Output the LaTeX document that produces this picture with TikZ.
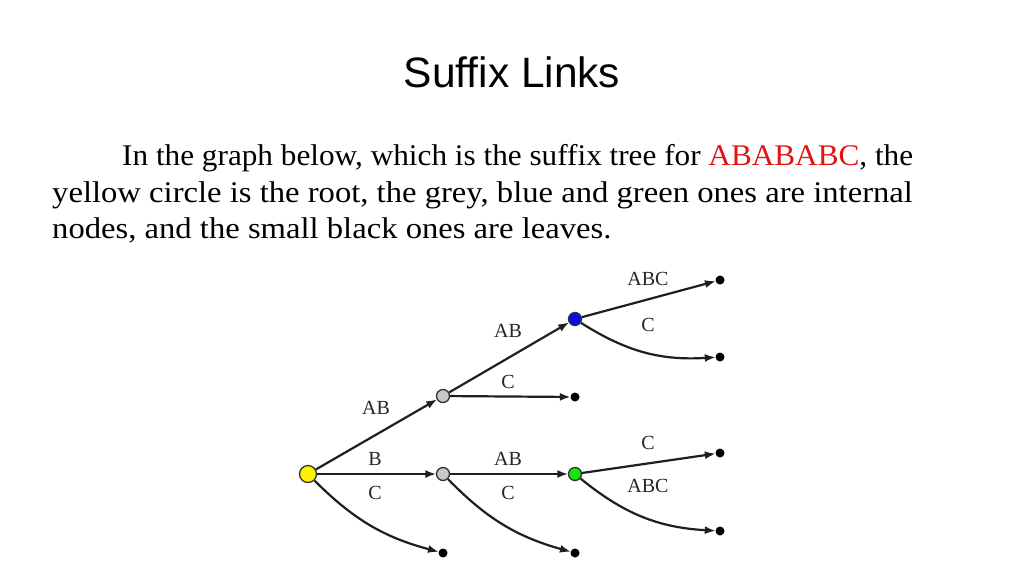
\documentclass[tikz,border=0pt]{standalone}
\usepackage{fontspec}
\setmainfont{Liberation Serif}
\newfontfamily\titlefont{Liberation Sans}
\usetikzlibrary{arrows.meta}
\definecolor{greynode}{RGB}{200,200,200}
\definecolor{greennode}{RGB}{20,230,20}
\definecolor{bluenode}{RGB}{10,10,240}
\definecolor{rednote}{RGB}{225,20,20}
\begin{document}
\begin{tikzpicture}[x=1pt,y=1pt,
  vtx/.style={circle,draw=black!80,line width=1.3pt,inner sep=0pt},
  rootnode/.style={vtx,minimum size=17pt,fill=yellow},
  inode/.style={vtx,minimum size=13pt},
  leaf/.style={circle,fill=black,inner sep=0pt,minimum size=9pt},
  edge/.style={line width=2.2pt,draw=black!88,-{Latex[length=11pt,width=8pt]},shorten >=-0.5pt},
  lab/.style={font=\fontsize{20}{22}\selectfont,text=black!85,inner sep=0pt},
  body/.style={font=\fontsize{30}{36}\selectfont,anchor=base west,inner sep=0pt}
]
\useasboundingbox (0,0) rectangle (1024,-576);
\fill[white] (0,0) rectangle (1024,-576);
% title
\node[anchor=base,inner sep=0pt,font=\titlefont\fontsize{42.5}{46}\selectfont] (title) at (512,-87) {Suffix Links};
% body text
\node[body] (line1) at (122,-165) {\scalebox{1.041}[1]{In the graph below, which is the suffix tree for \textcolor{rednote}{ABABABC}, the}};
\node[body] (line2) at (52,-202) {\scalebox{1.088}[1]{yellow circle is the root, the grey, blue and green ones are internal}};
\node[body] (line3) at (52,-238) {\scalebox{1.088}[1]{nodes, and the small black ones are leaves.}};
% tree nodes
\node[rootnode] (root) at (308,-474) {};
\node[inode,fill=greynode] (g1) at (443,-396) {};
\node[inode,fill=bluenode] (bl) at (575,-319) {};
\node[inode,fill=greynode] (g2) at (443,-474) {};
\node[inode,fill=greennode] (gr) at (575,-474) {};
\node[leaf] (l1) at (720,-280) {};
\node[leaf] (l2) at (720,-357) {};
\node[leaf] (l3) at (575,-397) {};
\node[leaf] (l4) at (720,-453) {};
\node[leaf] (l5) at (720,-531) {};
\node[leaf] (l6) at (443,-553) {};
\node[leaf] (l7) at (575,-553) {};
% edges
\draw[edge] (root) -- (g1);
\draw[edge] (g1) -- (bl);
\draw[edge] (g1) -- (l3);
\draw[edge] (bl) -- (l1);
\draw[edge] (bl) to[bend right=18] (l2);
\draw[edge] (root) -- (g2);
\draw[edge] (root) to[bend right=15] (l6);
\draw[edge] (g2) -- (gr);
\draw[edge] (g2) to[bend right=15] (l7);
\draw[edge] (gr) -- (l4);
\draw[edge] (gr) to[bend right=18] (l5);
% labels
\node[lab] (tAB1) at (376,-408) {AB};
\node[lab] (tAB2) at (508,-331) {AB};
\node[lab] (tC1) at (508,-382) {C};
\node[lab] (tABC1) at (648,-279) {ABC};
\node[lab] (tC2) at (648,-325) {C};
\node[lab] (tB) at (375,-459) {B};
\node[lab] (tC3) at (375,-493) {C};
\node[lab] (tAB3) at (508,-459) {AB};
\node[lab] (tC4) at (508,-493) {C};
\node[lab] (tC5) at (648,-443) {C};
\node[lab] (tABC2) at (648,-486) {ABC};
\end{tikzpicture}
\end{document}
